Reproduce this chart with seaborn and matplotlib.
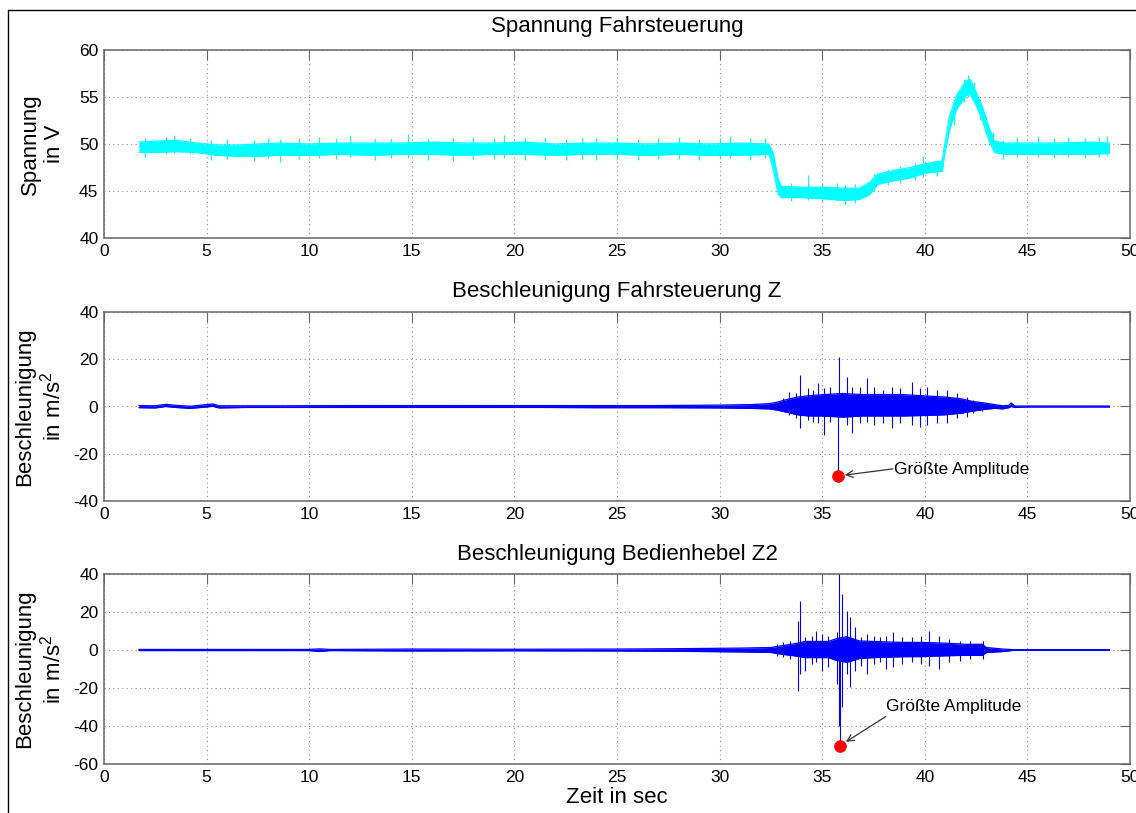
import numpy as np
import pandas as pd
import matplotlib
matplotlib.use("Agg")
import matplotlib.pyplot as plt
from matplotlib.lines import Line2D
import seaborn as sns

# ==========================
# Data
# ==========================
# Spannung Fahrsteuerung: dense core of the noisy trace (time, lower, upper)
T_V = [1.7, 2.5, 3.5, 4.5, 5.5, 6.5, 7.5, 8.5, 10, 11.5, 13, 14.5, 16, 17.5, 19,
       20.5, 22, 23.5, 25, 26.5, 28, 29.5, 31, 32.4, 32.6, 32.85, 33.0, 34, 35,
       36, 36.8, 37.3, 37.7, 38.5, 39.3, 40.0, 40.85, 40.95, 41.2, 41.55, 42.0,
       42.2, 42.5, 42.8, 43.1, 43.4, 43.9, 45, 46.5, 48, 49]
V_LO = [49.1, 49.1, 49.2, 49.1, 48.8, 48.7, 48.7, 48.8, 48.8, 48.9, 48.8, 48.9,
        48.9, 48.8, 48.9, 48.9, 48.8, 48.9, 48.9, 48.8, 48.9, 48.8, 48.8, 48.9,
        47.5, 44.7, 44.3, 44.3, 44.2, 44.0, 44.1, 44.6, 45.7, 46.1, 46.4, 46.9,
        47.1, 48.7, 51.5, 53.7, 55.1, 55.4, 54.1, 52.6, 50.5, 49.1, 48.9, 48.9,
        48.9, 48.9, 49.0]
V_HI = [50.2, 50.3, 50.4, 50.1, 49.9, 49.9, 50.0, 50.1, 50.0, 50.1, 50.1, 50.1,
        50.2, 50.1, 50.1, 50.2, 50.0, 50.1, 50.1, 50.0, 50.1, 50.0, 50.1, 50.0,
        49.1, 46.3, 45.5, 45.4, 45.4, 45.3, 45.3, 45.9, 46.8, 47.2, 47.5, 47.9,
        48.2, 49.7, 52.9, 55.2, 56.7, 56.9, 55.5, 54.0, 51.9, 50.3, 50.1, 50.1,
        50.1, 50.2, 50.1]
# single visible excursions (time, lowest, highest)
V_SPIKE_T = [2.0, 3.0, 3.4, 4.2, 5.2, 6.0, 7.3, 8.0, 8.6, 9.5, 10.5, 11.3, 12.0,
             13.2, 14.0, 14.8, 15.8, 17.0, 18.0, 19.0, 19.5, 20.5, 21.5, 22.5,
             23.3, 24.0, 25.0, 26.0, 27.0, 28.0, 29.0, 30.0, 30.5, 31.5, 32.2,
             33.5, 34.3, 35.0, 35.7, 36.1, 36.6, 37.5, 38.2, 38.8, 39.5, 39.9,
             40.6, 41.4, 41.9, 42.1, 42.4, 42.7, 43.0, 43.3, 43.8, 44.5, 45.5,
             46.3, 47.0, 47.8, 48.5, 48.9]
V_SPIKE_LO = [48.6, 48.9, 49.0, 48.9, 48.3, 48.4, 48.2, 48.5, 48.1, 48.4, 48.5,
              48.4, 48.6, 48.3, 48.5, 48.5, 48.3, 48.2, 48.4, 48.4, 48.5, 48.3,
              48.4, 48.3, 48.4, 48.3, 48.4, 48.3, 48.4, 48.4, 48.3, 48.4, 48.5,
              48.3, 48.5, 43.9, 44.0, 43.8, 43.9, 43.6, 43.7, 45.0, 45.6, 45.9,
              46.2, 46.5, 46.6, 52.0, 54.5, 55.0, 54.5, 52.6, 51.2, 49.4, 48.4,
              48.6, 48.6, 48.5, 48.6, 48.5, 48.6, 48.8]
V_SPIKE_HI = [50.6, 50.7, 51.0, 50.6, 50.4, 50.5, 50.4, 50.6, 50.5, 50.6, 50.7,
              50.6, 51.0, 50.6, 50.6, 51.1, 50.5, 50.6, 50.7, 50.6, 51.0, 50.6,
              50.7, 50.5, 50.6, 50.6, 50.7, 50.5, 50.6, 50.7, 50.5, 50.6, 50.9,
              50.6, 50.6, 45.9, 46.7, 45.8, 45.9, 45.6, 45.7, 46.8, 47.3, 47.7,
              48.0, 48.7, 48.3, 54.5, 56.9, 57.3, 56.6, 54.8, 53.0, 51.3, 50.4,
              50.7, 50.8, 50.6, 50.7, 50.6, 50.7, 50.8]

# Beschleunigung Fahrsteuerung Z: dense core
T_Z = [1.7, 2.5, 3.0, 3.5, 4.2, 5.0, 5.3, 5.6, 7, 9, 12, 15, 18, 21, 24, 27, 30,
       31.5, 32.4, 32.8, 33.3, 33.8, 34.3, 35.0, 36.0, 37.0, 38.0, 39.0, 40.0,
       41.0, 41.8, 42.3, 42.9, 43.4, 43.8, 44.1, 44.2, 44.4, 45, 49]
Z_LO = [-0.5, -0.6, 0.0, -0.4, -0.8, -0.2, 0.1, -0.6, -0.4, -0.4, -0.4, -0.4,
        -0.4, -0.4, -0.5, -0.5, -0.6, -0.8, -1.0, -1.5, -2.5, -3.5, -4.0, -4.0,
        -4.5, -4.0, -4.0, -4.0, -3.8, -3.5, -2.8, -2.0, -1.2, -0.8, -1.0, -0.5,
        0.0, -0.4, -0.2, -0.2]
Z_HI = [0.4, 0.3, 0.9, 0.5, 0.1, 0.8, 1.1, 0.3, 0.3, 0.3, 0.4, 0.4, 0.4, 0.4,
        0.4, 0.4, 0.6, 0.8, 1.2, 1.8, 3.0, 4.0, 4.5, 5.0, 5.5, 5.0, 5.0, 5.0,
        4.5, 4.0, 3.2, 2.2, 1.5, 0.8, 0.3, 0.5, 1.5, 0.2, 0.2, 0.2]
Z_SPIKE_T = [33.1, 33.4, 33.7, 33.92, 34.3, 34.57, 34.8, 35.1, 35.4, 35.77,
             35.82, 36.2, 36.44, 36.85, 37.17, 37.5, 37.98, 38.4, 38.8, 39.36,
             39.77, 40.1, 40.58, 41.07, 41.56, 42.05, 42.37, 42.77]
Z_SPIKE_LO = [-2.0, -3.6, -5.0, -9.2, -5.7, -6.4, -7.1, -12.0, -6.4, -29.4,
              -3.0, -7.8, -11.4, -7.1, -6.4, -7.8, -7.1, -9.2, -7.1, -7.8, -8.5,
              -7.8, -7.1, -7.1, -5.0, -4.3, -2.8, -1.8]
Z_SPIKE_HI = [3.5, 6.3, 5.6, 13.3, 7.7, 7.0, 9.8, 7.7, 8.4, 0.0, 20.8, 12.6,
              8.4, 8.4, 11.9, 8.4, 7.0, 8.4, 7.7, 10.5, 7.7, 8.4, 7.0, 7.0,
              5.6, 4.2, 2.8, 2.0]
Z_MAX_T, Z_MAX_V = 35.77, -29.4

# Beschleunigung Bedienhebel Z2: dense core
T_Z2 = [1.7, 5, 10, 10.5, 11, 15, 20, 25, 28, 31, 32.5, 33.0, 33.6, 34.2, 34.8,
        35.3, 35.7, 36.2, 36.8, 37.5, 38.2, 39.0, 39.8, 40.5, 41.2, 42.0, 42.8,
        43.0, 43.8, 44.3, 49]
Z2_LO = [-0.3, -0.3, -0.3, -0.8, -0.3, -0.5, -0.4, -0.5, -0.7, -1.0, -1.3, -2.2,
         -3.0, -4.0, -4.0, -4.0, -5.5, -6.5, -4.5, -4.0, -3.8, -3.5, -3.5, -3.2,
         -3.0, -2.8, -2.8, -1.3, -0.8, -0.2, -0.2]
Z2_HI = [0.3, 0.3, 0.3, 0.6, 0.3, 0.5, 0.4, 0.5, 0.7, 1.0, 1.3, 2.2, 3.2, 4.5,
         4.5, 4.5, 6.0, 7.0, 4.8, 4.5, 4.2, 4.0, 4.0, 3.8, 3.5, 3.0, 3.0, 1.3,
         0.5, 0.2, 0.2]
Z2_SPIKE_T = [32.78, 33.1, 33.43, 33.84, 33.92, 34.16, 34.49, 34.7, 34.97, 35.3,
              35.7, 35.8, 35.87, 35.95, 36.2, 36.36, 36.6, 36.9, 37.17, 37.5,
              37.8, 38.1, 38.45, 38.9, 39.4, 39.8, 40.2, 40.7, 41.2, 41.7, 42.2,
              42.85]
Z2_SPIKE_LO = [-3.0, -3.9, -4.7, -21.4, -12.6, -10.9, -7.4, -6.5, -10.9, -9.1,
               -17.9, -39.8, -50.3, -30.0, -12.6, -19.6, -10.9, -8.2, -12.6,
               -7.4, -6.5, -10.0, -9.1, -7.4, -6.5, -7.4, -8.2, -10.0, -6.5,
               -5.6, -4.7, -4.7]
Z2_SPIKE_HI = [3.2, 4.0, 4.9, 15.4, 26.0, 6.7, 7.5, 10.2, 8.4, 7.5, 9.3, 45.0,
               0.0, 29.5, 20.7, 17.2, 12.0, 6.7, 8.4, 7.5, 6.7, 7.5, 9.3, 6.7,
               6.7, 7.5, 10.2, 7.5, 5.8, 4.9, 4.9, 4.9]
Z2_MAX_T, Z2_MAX_V = 35.87, -50.3

# ==========================
# Styling
# ==========================
sns.set_theme(style="white")
plt.rcParams['font.family'] = ['Liberation Sans', 'DejaVu Sans']
plt.rcParams['mathtext.fontset'] = 'custom'
plt.rcParams['mathtext.rm'] = 'Liberation Sans'
plt.rcParams['text.color'] = 'black'
plt.rcParams['axes.labelcolor'] = 'black'
plt.rcParams['axes.unicode_minus'] = False

CYAN = '#00FFFF'
BLUE = '#0000FF'
SPINE = '#666666'

fig = plt.figure(figsize=(11.36, 8.13), dpi=100)
L, W = 104 / 1136, 1026 / 1136
ax1 = fig.add_axes([L, 1 - 238 / 813, W, 188 / 813])
ax2 = fig.add_axes([L, 1 - 501 / 813, W, 189 / 813])
ax3 = fig.add_axes([L, 1 - 764 / 813, W, 190 / 813])


def style_axes(ax, ylim, yticks):
    ax.set_xlim(0, 50)
    ax.set_xticks(np.arange(0, 51, 5))
    ax.set_ylim(*ylim)
    ax.set_yticks(yticks)
    ax.set_axisbelow(True)
    ax.grid(True, linestyle=(0, (1, 3)), color='#8c8c8c', linewidth=0.8)
    ax.tick_params(direction='in', length=7, width=0.8, color=SPINE,
                   top=True, right=True, labelsize=12.5, labelcolor='black',
                   pad=4)
    for sp in ax.spines.values():
        sp.set_color(SPINE)
        sp.set_linewidth(1.1)
    ax.set_xlabel('')


def draw_trace(ax, t, lo, hi, st, slo, shi, color):
    df = pd.DataFrame({'t': t, 'lo': lo, 'hi': hi})
    ax.fill_between(df['t'], df['lo'], df['hi'], color=color, linewidth=0)
    sns.lineplot(data=df, x='t', y='lo', ax=ax, color=color, linewidth=0.9)
    sns.lineplot(data=df, x='t', y='hi', ax=ax, color=color, linewidth=0.9)
    ax.vlines(st, slo, shi, color=color, linewidth=0.8)


# --- Spannung ---
draw_trace(ax1, T_V, V_LO, V_HI, V_SPIKE_T, V_SPIKE_LO, V_SPIKE_HI, CYAN)
style_axes(ax1, (40, 60), np.arange(40, 61, 5))
ax1.set_title('Spannung Fahrsteuerung', fontsize=16, pad=13)
ax1.set_ylabel('Spannung\nin V', fontsize=16)

# --- Beschleunigung Z ---
draw_trace(ax2, T_Z, Z_LO, Z_HI, Z_SPIKE_T, Z_SPIKE_LO, Z_SPIKE_HI, BLUE)
sns.scatterplot(x=[Z_MAX_T], y=[Z_MAX_V], ax=ax2, color='red', s=70,
                edgecolor='red', zorder=5)
style_axes(ax2, (-40, 40), np.arange(-40, 41, 20))
ax2.set_title('Beschleunigung Fahrsteuerung Z', fontsize=16, pad=11)
ax2.set_ylabel('Beschleunigung\nin m/s$^2$', fontsize=16)
ax2.text(38.5, -26.5, 'Größte Amplitude', fontsize=12.5, va='center', ha='left')
ax2.annotate('', xy=(Z_MAX_T, Z_MAX_V), xytext=(38.45, -26.4),
             arrowprops=dict(arrowstyle='->', color='#333333', lw=0.9,
                             shrinkA=0, shrinkB=5))

# --- Beschleunigung Z2 ---
draw_trace(ax3, T_Z2, Z2_LO, Z2_HI, Z2_SPIKE_T, Z2_SPIKE_LO, Z2_SPIKE_HI, BLUE)
sns.scatterplot(x=[Z2_MAX_T], y=[Z2_MAX_V], ax=ax3, color='red', s=70,
                edgecolor='red', zorder=5)
style_axes(ax3, (-60, 40), np.arange(-60, 41, 20))
ax3.set_title('Beschleunigung Bedienhebel Z2', fontsize=16, pad=10)
ax3.set_ylabel('Beschleunigung\nin m/s$^2$', fontsize=16)
ax3.set_xlabel('Zeit in sec', fontsize=16, labelpad=2)
ax3.text(38.1, -29.8, 'Größte Amplitude', fontsize=12.5, va='center', ha='left')
ax3.annotate('', xy=(Z2_MAX_T, Z2_MAX_V), xytext=(38.1, -35.0),
             arrowprops=dict(arrowstyle='->', color='#333333', lw=0.9,
                             shrinkA=0, shrinkB=5))

for ax in (ax1, ax2, ax3):
    ax.yaxis.set_label_coords(-0.038, 0.5)

# figure frame (left and top edge visible in the screenshot)
fig.add_artist(Line2D([8 / 1136, 1], [1 - 10 / 813, 1 - 10 / 813],
                      transform=fig.transFigure, color='black', linewidth=1))
fig.add_artist(Line2D([8 / 1136, 8 / 1136], [0, 1 - 10 / 813],
                      transform=fig.transFigure, color='black', linewidth=1))

fig.savefig('out.png', dpi=100)
